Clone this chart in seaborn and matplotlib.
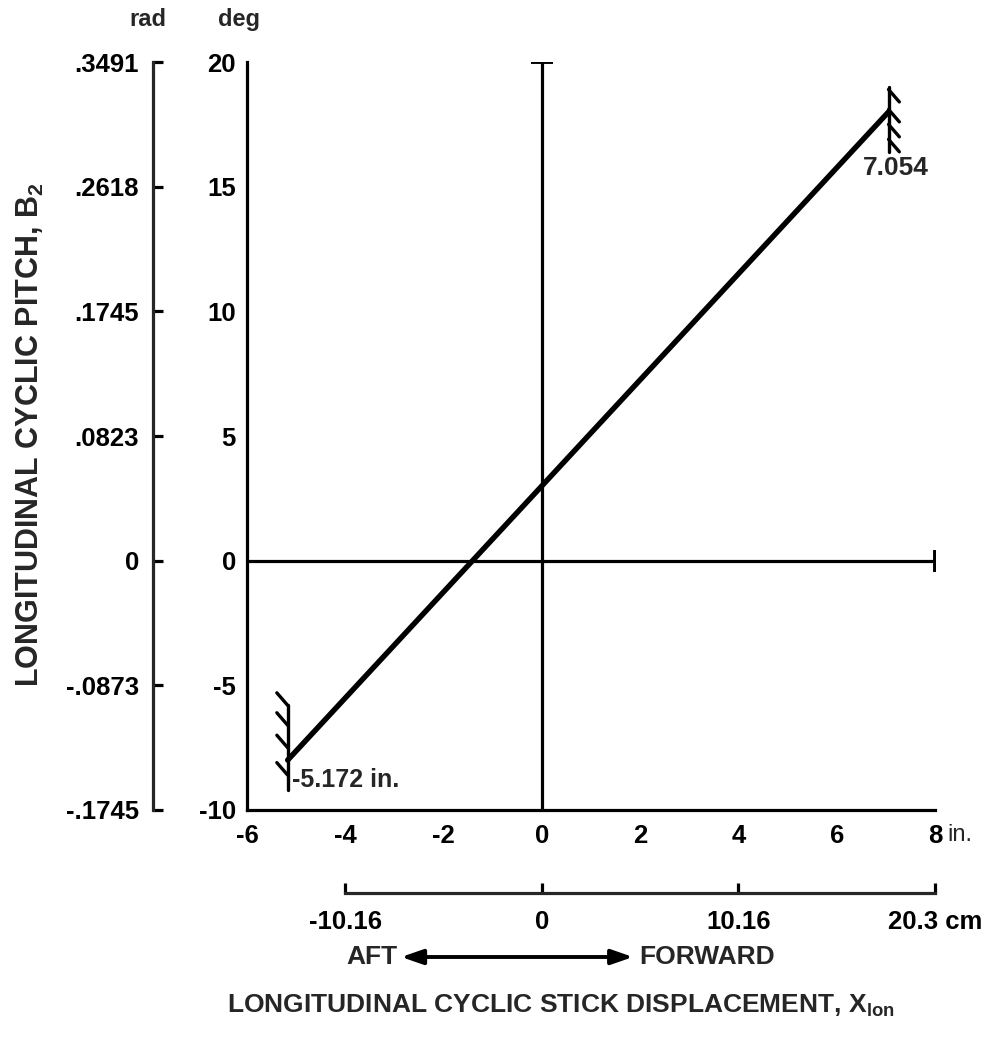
import numpy as np
import seaborn as sns
import matplotlib.pyplot as plt
from matplotlib.patches import FancyArrowPatch

# ── datos ──
stick_in = [-5.172, 7.054]          # recorrido del mando (in)
pitch_deg = [-8.0, 18.0]            # paso cíclico longitudinal (deg)

deg_ticks = [-10, -5, 0, 5, 10, 15, 20]
rad_labels = ["-.1745", "-.0873", "0", ".0823", ".1745", ".2618", ".3491"]
in_ticks = [-6, -4, -2, 0, 2, 4, 6, 8]
in_labels = ["-6", "-4", "-2", "0", "2", "4", "6", "8"]
cm_ticks_in = [-4, 0, 4, 8]
cm_labels = ["-10.16", "0", "10.16", "20.3 cm"]
end_labels = ["-5.172 in.", "7.054"]

X_LO, X_HI = -6, 8
Y_LO, Y_HI = -10, 20

sns.set_theme(style="white")
plt.rcParams['font.family'] = ['Liberation Sans', 'DejaVu Sans']
plt.rcParams['font.weight'] = 'bold'
plt.rcParams['mathtext.fontset'] = 'custom'
plt.rcParams['mathtext.rm'] = 'Liberation Sans:bold'
plt.rcParams['mathtext.bf'] = 'Liberation Sans:bold'

K = "black"
LW_AX = 2.3
TICK_LEN = 7.2
FS = 18.5

fig = plt.figure(figsize=(10.08, 10.48), dpi=100, facecolor="white")
ax = fig.add_axes([0.245, 0.2271, 0.6826, 0.7137])
ax.set_facecolor("white")

# recta principal
sns.lineplot(x=stick_in, y=pitch_deg, color=K, lw=3.9, ax=ax,
             solid_capstyle="round", zorder=4)

# ejes de referencia
ax.plot([X_LO, X_HI], [0, 0], color=K, lw=LW_AX, solid_capstyle="butt")
ax.plot([X_HI], [0], marker="|", ms=16, mew=2.8, color=K)
ax.plot([0, 0], [Y_LO, Y_HI], color=K, lw=LW_AX, solid_capstyle="butt")
ax.plot([0], [Y_HI], marker="_", ms=16, mew=2.8, color=K)

# topes del mando con rayado
stops = [
    # x, extremo sup, extremo inf, posiciones del rayado, sentido
    (stick_in[0], pitch_deg[0] + 2.2, pitch_deg[0] - 1.2,
     [pitch_deg[0] + 2.2, pitch_deg[0] + 1.4, pitch_deg[0] + 0.5,
      pitch_deg[0] - 0.6], -1),
    (stick_in[1], pitch_deg[1] + 1.0, pitch_deg[1] - 1.6,
     [pitch_deg[1] + 0.9, pitch_deg[1] + 0.1, pitch_deg[1] - 0.5,
      pitch_deg[1] - 1.1], 1),
]
for sx, top, bot, hatch, s in stops:
    ax.plot([sx, sx], [bot, top], color=K, lw=2.4, zorder=5)
    for hy in hatch:
        ax.plot([sx, sx + s * 0.22], [hy, hy - s * 0.5], color=K, lw=2.4,
                zorder=5, solid_capstyle="round")

ax.annotate(end_labels[0], xy=(stick_in[0], pitch_deg[0] - 0.8),
            xytext=(3, 0), textcoords="offset points",
            ha="left", va="center", fontsize=18, fontweight="bold")
ax.annotate(end_labels[1], xy=(stick_in[1], pitch_deg[1] - 1.6),
            xytext=(5, -3), textcoords="offset points",
            ha="center", va="top", fontsize=19, fontweight="bold")

ax.set_xlim(X_LO, X_HI)
ax.set_ylim(Y_LO, Y_HI)
ax.set_xticks(in_ticks, labels=in_labels)
ax.set_yticks(deg_ticks, labels=[str(v) for v in deg_ticks])
for side in ["top", "right"]:
    ax.spines[side].set_visible(False)
for side in ["left", "bottom"]:
    ax.spines[side].set_linewidth(LW_AX)
    ax.spines[side].set_color(K)
ax.tick_params(axis="both", direction="in", length=TICK_LEN, width=LW_AX,
               colors=K, labelsize=FS)
ax.tick_params(axis="y", pad=8)
ax.tick_params(axis="x", pad=10)
ax.grid(False)

ax.annotate("in.", xy=(X_HI, 0), xycoords=ax.get_xaxis_transform(),
            xytext=(9, -10), textcoords="offset points",
            ha="left", va="top", fontsize=17, fontweight="normal")

# eje secundario en radianes
sec_y = ax.secondary_yaxis(-0.1366, functions=(np.deg2rad, np.rad2deg))
sec_y.set_yticks(np.deg2rad(deg_ticks), labels=rad_labels)
sec_y.spines["left"].set_linewidth(LW_AX)
sec_y.tick_params(direction="in", length=TICK_LEN, width=LW_AX,
                  labelsize=FS, pad=10, colors=K)

# eje secundario en cm
sec_x = ax.secondary_xaxis(-0.111, functions=(lambda v: v * 2.54,
                                              lambda v: v / 2.54))
cm_pos = np.array(cm_ticks_in) * 2.54
sec_x.set_xticks(cm_pos, labels=cm_labels)
sec_x.spines["bottom"].set_bounds(cm_pos[0], cm_pos[-1])
sec_x.spines["bottom"].set_linewidth(LW_AX)
sec_x.tick_params(direction="in", length=TICK_LEN, width=LW_AX,
                  labelsize=FS, pad=12, colors=K)

# textos
fig.text(0.147, 0.981, "rad", ha="center", va="center", fontsize=17)
fig.text(0.237, 0.981, "deg", ha="center", va="center", fontsize=17)
fig.text(0.030, 0.585, "LONGITUDINAL CYCLIC PITCH, B$_\\mathbf{2}$",
         rotation=90, ha="center", va="center", fontsize=22)
fig.text(0.556, 0.034, "LONGITUDINAL CYCLIC STICK DISPLACEMENT, X$_\\mathbf{lon}$",
         ha="center", va="baseline", fontsize=19)

y_dir = 1 - 957 / 1048
fig.text(0.394, y_dir, "AFT", ha="right", va="center", fontsize=19)
fig.text(0.634, y_dir, "FORWARD", ha="left", va="center", fontsize=19)
fig.patches.append(FancyArrowPatch(
    (0.398, y_dir), (0.628, y_dir), transform=fig.transFigure,
    arrowstyle="<|-|>,head_length=13,head_width=4.5", lw=2.8, color=K,
    mutation_scale=1, shrinkA=0, shrinkB=0))

plt.savefig("out.png", dpi=100, facecolor="white")
